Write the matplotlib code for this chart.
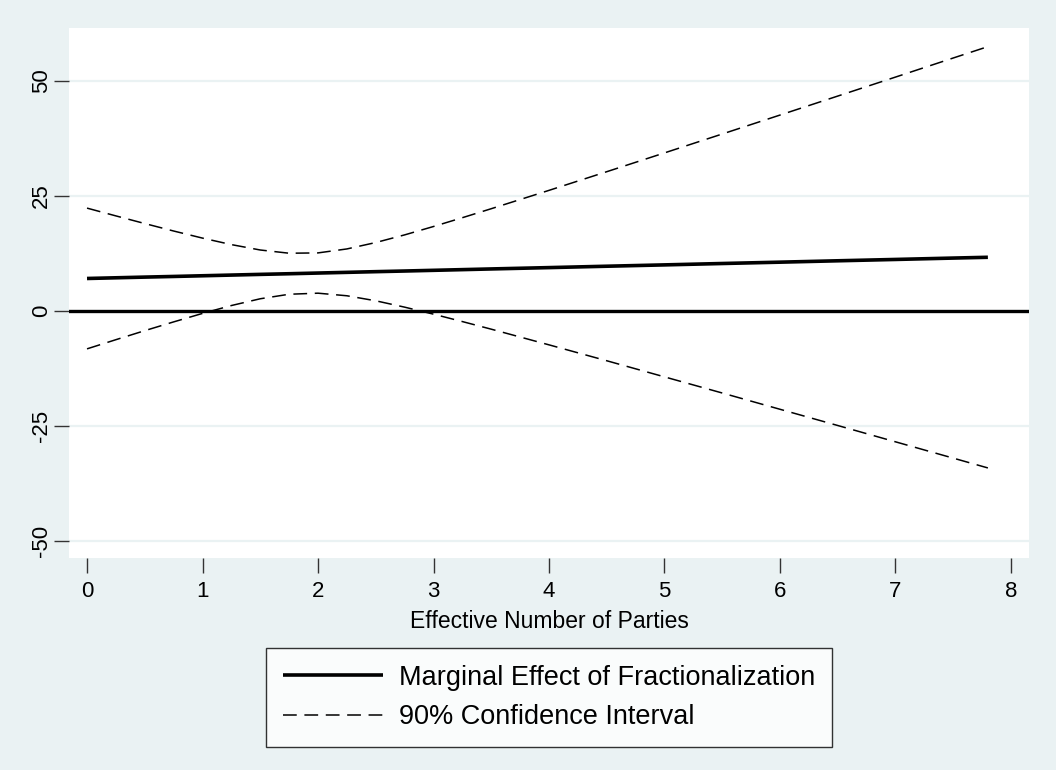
import matplotlib
matplotlib.use("Agg")
import matplotlib.pyplot as plt

# Data
x_vals = [0, 0.25, 0.5, 0.75, 1, 1.25, 1.5, 1.75, 2, 2.25, 2.5, 2.75, 3, 3.25, 3.5,
          4, 4.5, 5, 5.5, 6, 6.5, 7, 7.5, 7.8]
marginal_effect = [7.05, 7.20, 7.35, 7.49, 7.64, 7.79, 7.94, 8.08, 8.23, 8.38, 8.53, 8.67,
                   8.82, 8.97, 9.12, 9.41, 9.71, 10.0, 10.3, 10.59, 10.89, 11.18, 11.48, 11.65]
ci_upper = [22.32, 20.63, 18.97, 17.35, 15.81, 14.40, 13.23, 12.53, 12.60, 13.46, 14.85, 16.51,
            18.33, 20.24, 22.19, 26.17, 30.22, 34.30, 38.40, 42.51, 46.63, 50.75, 54.89, 57.36]
ci_lower = [-8.22, -6.23, -4.27, -2.37, -0.53, 1.18, 2.65, 3.63, 3.86, 3.30, 2.21, 0.83,
            -0.69, -2.30, -3.95, -7.35, -10.80, -14.30, -17.80, -21.33, -24.85, -28.39, -31.93, -34.06]
x_ticks = [0, 1, 2, 3, 4, 5, 6, 7, 8]
y_ticks = [-50, -25, 0, 25, 50]
x_label = "Effective Number of Parties"
legend_labels = ["Marginal Effect of Fractionalization", "90% Confidence Interval"]

bg = "#EAF2F3"
plt.rcParams['font.family'] = ['Liberation Sans', 'DejaVu Sans']

fig = plt.figure(figsize=(10.56, 7.70), dpi=100, facecolor=bg)
ax = fig.add_axes([69/1056, 1-558/770, (1029-69)/1056, (558-28)/770])
ax.set_facecolor("white")

ax.set_xlim(-0.156, 8.156)
ax.set_ylim(-53.6, 61.4)

for s in ax.spines.values():
    s.set_visible(False)

ax.set_yticks(y_ticks)
ax.set_xticks(x_ticks)
ax.set_yticklabels([str(v) for v in y_ticks], rotation=90, va="center", fontsize=16)
ax.set_xticklabels([str(v) for v in x_ticks], fontsize=16)
ax.tick_params(axis="both", direction="out", length=10.5, width=1, color="#333333")
ax.tick_params(axis="x", pad=6)
ax.tick_params(axis="y", pad=2)
ax.grid(axis="y", color=bg, linewidth=1.6)
ax.set_axisbelow(True)

ax.axhline(0, color="black", linewidth=2.4, zorder=2)
l1, = ax.plot(x_vals, marginal_effect, color="black", linewidth=2.6, solid_capstyle="butt", zorder=3)
l2, = ax.plot(x_vals, ci_upper, color="black", linewidth=1.1, dashes=(9, 5), zorder=3)
ax.plot(x_vals, ci_lower, color="black", linewidth=1.1, dashes=(9, 5), zorder=3)

ax.set_xlabel(x_label, fontsize=16.5, labelpad=6)

leg = fig.legend([l1, l2], legend_labels, loc="center", bbox_to_anchor=(549/1056, 1-697.5/770),
                 fontsize=19.5, frameon=True, fancybox=False, handlelength=3.7,
                 handletextpad=0.6, borderpad=0.6, labelspacing=0.5, borderaxespad=0)
leg.get_frame().set_edgecolor("black")
leg.get_frame().set_linewidth(1.0)
leg.get_frame().set_facecolor("white")

fig.savefig("out.png", dpi=100, facecolor=bg)
